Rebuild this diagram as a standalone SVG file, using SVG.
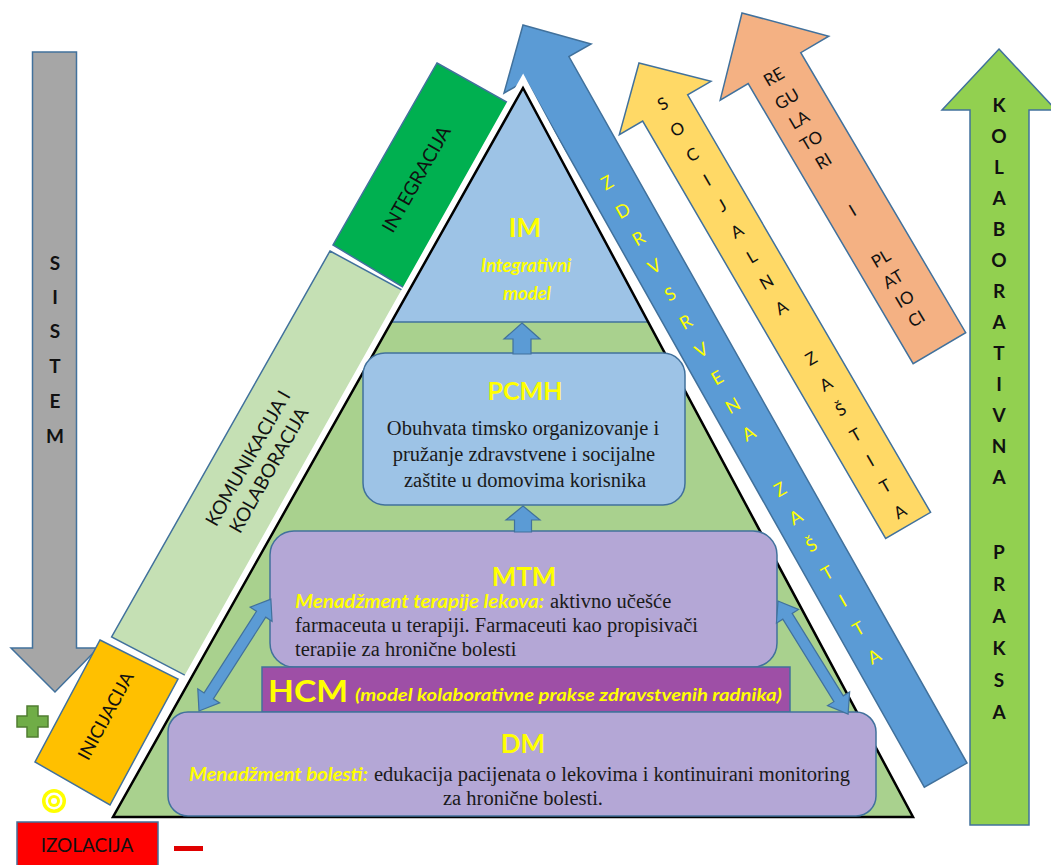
<svg xmlns="http://www.w3.org/2000/svg" width="1051" height="865" viewBox="0 0 1051 865">
  <style>
    .edge { stroke: #41719c; stroke-width: 1.5; stroke-linejoin: miter; }
    .cap { font-family: Lato, "Liberation Sans", sans-serif; font-weight: bold; fill: #111; text-anchor: middle; }
    .lbl { font-family: Lato, "Liberation Sans", sans-serif; fill: #111; text-anchor: middle; }
    .ylw { font-family: Lato, "Liberation Sans", sans-serif; fill: #ffff00; text-anchor: middle; }
    .ttl { font-family: Lato, "Liberation Sans", sans-serif; font-weight: bold; fill: #ffff00; }
    .ital { font-family: Lato, "Liberation Sans", sans-serif; font-weight: bold; font-style: italic; fill: #ffff00; }
    .body { font-family: "Liberation Serif", "Times New Roman", serif; fill: #1a1a1a; }
  </style>
  <defs>
    <clipPath id="mtmClip">
      <rect x="260" y="520" width="530" height="137"/>
    </clipPath>
  </defs>
  <rect width="1051" height="865" fill="#ffffff"/>

  <!-- SISTEM: grey downward arrow -->
  <g id="sistem">
    <polygon class="edge" fill="#a6a6a6" points="32.5,52 76.5,52 76.5,648 98,648 55,692 11,648 32.5,648"/>
    <g class="cap" font-size="19">
      <text x="55" y="270">S</text>
      <text x="55" y="304">I</text>
      <text x="55" y="338">S</text>
      <text x="55" y="373">T</text>
      <text x="55" y="408">E</text>
      <text x="55" y="443">M</text>
    </g>
  </g>

  <!-- INICIJACIJA -->
  <g id="inicijacija">
    <polygon class="edge" fill="#ffc000" points="100,640 178,679 110,805 35,762"/>
    <text class="lbl" font-size="18" transform="translate(106,716) rotate(-61.5)" y="6">INICIJACIJA</text>
  </g>

  <!-- IZOLACIJA -->
  <g id="izolacija">
    <rect x="17" y="822" width="141" height="50" fill="#ff0000" stroke="#41719c" stroke-width="1.5"/>
    <text class="lbl" font-size="19" x="87" y="852">IZOLACIJA</text>
  </g>

  <!-- markers: plus, double circle, minus -->
  <g id="plus">
    <path d="M27,706 h11 v10 h10 v11 h-10 v10 h-11 v-10 h-10 v-11 h10 z" fill="#70ad47" stroke="#507e32" stroke-width="1.5"/>
  </g>
  <g id="ring">
    <circle cx="54" cy="801" r="12" fill="#ffff00"/>
    <circle cx="54" cy="801" r="8.5" fill="#ffffff"/>
    <circle cx="54" cy="801" r="6" fill="#ffff00"/>
    <circle cx="54" cy="801" r="3" fill="#ffffff"/>
  </g>
  <g id="minus">
    <rect x="174" y="846" width="29" height="5" fill="#e00000"/>
  </g>

  <!-- KOMUNIKACIJA I KOLABORACIJA -->
  <g id="komunikacija">
    <polygon class="edge" fill="#c5e0b4" points="330,251 404,291 187.6,676.6 111.6,637"/>
    <g class="lbl" font-size="19" transform="translate(258,464) rotate(-60.5)">
      <text y="-5">KOMUNIKACIJA I</text>
      <text y="19">KOLABORACIJA</text>
    </g>
  </g>

  <!-- INTEGRACIJA -->
  <g id="integracija">
    <polygon class="edge" fill="#00b050" points="437,63 512,105 406,289 333,245"/>
    <text class="lbl" font-size="19" transform="translate(416,179) rotate(-60.5)" y="7">INTEGRACIJA</text>
  </g>

  <!-- ZDRAVSTVENA ZAŠTITA -->
  <g id="zdravstvena" transform="translate(523,25) rotate(-29.4)">
    <polygon class="edge" fill="#5b9bd5" points="0,0 50,50 24.5,50 24.5,861 -24.5,861 -24.5,50 -50,50"/>
    <g class="ylw" font-size="18">
      <text x="-4" y="185">Z</text>
      <text x="-4" y="217">D</text>
      <text x="-4" y="249">R</text>
      <text x="-4" y="281">V</text>
      <text x="-4" y="313">S</text>
      <text x="-4" y="345">R</text>
      <text x="-4" y="377">V</text>
      <text x="-4" y="409">E</text>
      <text x="-4" y="441">N</text>
      <text x="-4" y="473">A</text>
      <text x="-4" y="537">Z</text>
      <text x="-4" y="569">A</text>
      <text x="-4" y="601">Š</text>
      <text x="-4" y="633">T</text>
      <text x="-4" y="665">I</text>
      <text x="-4" y="697">T</text>
      <text x="-4" y="729">A</text>
    </g>
  </g>

  <!-- SOCIJALNA ZAŠTITA -->
  <g id="socijalna" transform="translate(639,63) rotate(-30.2)">
    <polygon class="edge" fill="#ffd966" points="0,0 53,52 26,52 26,535 -26,535 -26,52 -53,52"/>
    <g class="lbl" font-size="17">
      <text x="0" y="53">S</text>
      <text x="0" y="82.5">O</text>
      <text x="0" y="112">C</text>
      <text x="0" y="141.5">I</text>
      <text x="0" y="171">J</text>
      <text x="0" y="200.5">A</text>
      <text x="0" y="230">L</text>
      <text x="0" y="259.5">N</text>
      <text x="0" y="289">A</text>
      <text x="0" y="348">Z</text>
      <text x="0" y="377.5">A</text>
      <text x="0" y="407">Š</text>
      <text x="0" y="436.5">T</text>
      <text x="0" y="466">I</text>
      <text x="0" y="495.5">T</text>
      <text x="0" y="525">A</text>
    </g>
  </g>

  <!-- REGULATORI I PLATIOCI -->
  <g id="regulatori" transform="translate(742,13) rotate(-30.5)">
    <polygon class="edge" fill="#f4b183" points="0,0 63,64 30.5,64 30.5,389 -30.5,389 -30.5,64 -63,64"/>
    <g class="lbl" font-size="17">
      <text x="-5" y="77">RE</text>
      <text x="-5" y="103">GU</text>
      <text x="-5" y="127">LA</text>
      <text x="-5" y="151">TO</text>
      <text x="-5" y="175">RI</text>
      <text x="-5" y="232">I</text>
      <text x="-5" y="288">PL</text>
      <text x="-5" y="312">AT</text>
      <text x="-5" y="335">IO</text>
      <text x="-5" y="358">CI</text>
    </g>
  </g>

  <!-- KOLABORATIVNA PRAKSA -->
  <g id="kolaborativna">
    <polygon class="edge" fill="#92d050" points="999,49 1056,110 1029,110 1029,825 970,825 970,110 942,110"/>
    <g class="cap" font-size="19">
      <text x="999" y="112">K</text>
      <text x="999" y="143">O</text>
      <text x="999" y="174">L</text>
      <text x="999" y="205">A</text>
      <text x="999" y="236">B</text>
      <text x="999" y="267">O</text>
      <text x="999" y="298">R</text>
      <text x="999" y="329">A</text>
      <text x="999" y="360">T</text>
      <text x="999" y="391">I</text>
      <text x="999" y="422">V</text>
      <text x="999" y="453">N</text>
      <text x="999" y="484">A</text>
      <text x="999" y="559">P</text>
      <text x="999" y="591">R</text>
      <text x="999" y="623">A</text>
      <text x="999" y="655">K</text>
      <text x="999" y="687">S</text>
      <text x="999" y="719">A</text>
    </g>
  </g>

  <!-- pyramid body -->
  <g id="pyramid">
    <path d="M113,817 L523,88 L913,817" fill="none" stroke="#ffffff" stroke-width="14" stroke-linejoin="miter"/>
    <polygon points="523,88 913,817 113,817" fill="#a9d18e"/>
  </g>

  <!-- IM: top of the pyramid -->
  <g id="im">
    <polygon points="523,88 648.2,322 391.4,322" fill="#9dc3e6"/>
    <line x1="391.4" y1="322" x2="648.2" y2="322" stroke="#41719c" stroke-width="1.5"/>
    <text class="ttl" font-size="26" x="525" y="237" text-anchor="middle">IM</text>
    <text class="ital" font-size="18.5" x="526" y="272" text-anchor="middle">Integrativni</text>
    <text class="ital" font-size="18.5" x="527" y="300" text-anchor="middle">model</text>
  </g>

  <!-- pyramid outline -->
  <polygon points="523,88 913,817 113,817" fill="none" stroke="#000000" stroke-width="2.5" stroke-linejoin="miter"/>

  <!-- PCMH -->
  <g id="pcmh">
    <rect class="edge" x="363" y="353" width="322" height="152" rx="22" fill="#9dc3e6"/>
    <text class="ttl" font-size="25" x="525" y="400" text-anchor="middle">PCMH</text>
    <g class="body" font-size="20.5" text-anchor="middle">
      <text x="523" y="435">Obuhvata timsko organizovanje i</text>
      <text x="524" y="461">pružanje zdravstvene i socijalne</text>
      <text x="525" y="487">zaštite u domovima korisnika</text>
    </g>
  </g>

  <!-- MTM -->
  <g id="mtm">
    <rect class="edge" x="270" y="531" width="507" height="136" rx="24" fill="#b4a7d6"/>
    <text class="ttl" font-size="26" x="524" y="586" text-anchor="middle">MTM</text>
    <g clip-path="url(#mtmClip)">
      <text class="ital" font-size="19" x="295" y="608" textLength="249" lengthAdjust="spacingAndGlyphs">Menadžment terapije lekova:</text>
      <text class="body" font-size="20.5" x="550" y="608">aktivno učešće</text>
      <text class="body" font-size="20.5" x="295" y="632">farmaceuta u terapiji. Farmaceuti kao propisivači</text>
      <text class="body" font-size="20.5" x="295" y="656">terapije za hronične bolesti</text>
    </g>
  </g>

  <!-- HCM -->
  <g id="hcm">
    <rect class="edge" x="262" y="667" width="528" height="45" fill="#9e4fa6"/>
    <text class="ttl" font-size="31" x="268" y="702" textLength="80" lengthAdjust="spacingAndGlyphs">HCM</text>
    <text class="ital" font-size="17.5" x="355" y="701" textLength="427" lengthAdjust="spacingAndGlyphs">(model kolaborativne prakse zdravstvenih radnika)</text>
  </g>

  <!-- DM -->
  <g id="dm">
    <rect class="edge" x="168" y="712" width="708" height="104" rx="20" fill="#b4a7d6"/>
    <text class="ttl" font-size="26" x="523" y="753" text-anchor="middle">DM</text>
    <text class="ital" font-size="18.5" x="189" y="781" textLength="179" lengthAdjust="spacingAndGlyphs">Menadžment bolesti:</text>
    <text class="body" font-size="20.5" x="374" y="781">edukacija pacijenata o lekovima i kontinuirani monitoring</text>
    <text class="body" font-size="20.5" x="523" y="805" text-anchor="middle">za hronične bolesti.</text>
  </g>

  <!-- connectors between levels -->
  <g id="connectors" fill="#5b9bd5" stroke="#41719c" stroke-width="1.2">
    <polygon points="522,323 540,339 531,339 531,354 513,354 513,339 504,339"/>
    <polygon points="523,506 540,520 531.5,520 531.5,532 514.5,532 514.5,520 506,520"/>
    <polygon transform="translate(199,711) rotate(-57.3)" points="0,0 18,-13 18,-5.5 115,-5.5 115,-13 133,0 115,13 115,5.5 18,5.5 18,13"/>
    <polygon transform="translate(778,601) rotate(58.2)" points="0,0 18,-13 18,-5.5 115,-5.5 115,-13 133,0 115,13 115,5.5 18,5.5 18,13"/>
  </g>
</svg>
